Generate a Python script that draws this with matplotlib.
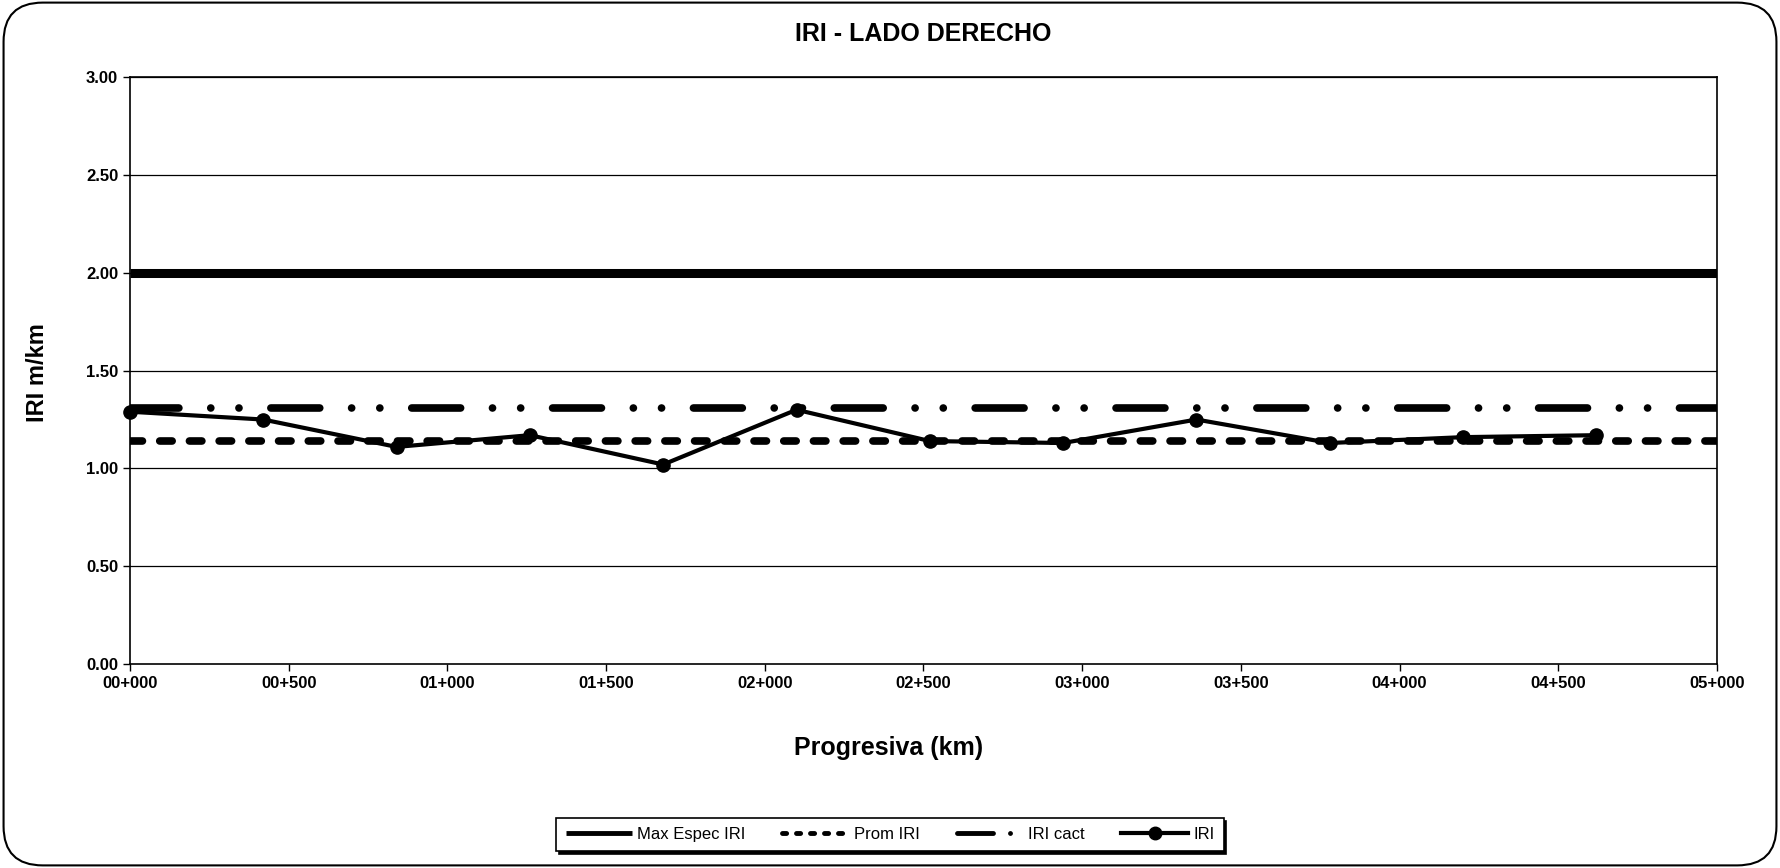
import matplotlib
matplotlib.use("Agg")
import matplotlib.pyplot as plt
from matplotlib.patches import FancyBboxPatch
from matplotlib.lines import Line2D

# progresiva (m) e IRI medido
progresiva = [0, 420, 840, 1260, 1680, 2100, 2520, 2940, 3360, 3780, 4200, 4620]
iri = [1.29, 1.25, 1.11, 1.17, 1.02, 1.30, 1.14, 1.13, 1.25, 1.13, 1.16, 1.17]

# lineas de referencia
x_ref = [0, 5000]
max_espec = [2.00, 2.00]
prom_iri = [1.14, 1.14]
iri_cact = [1.31, 1.31]

x_ticks = [0, 500, 1000, 1500, 2000, 2500, 3000, 3500, 4000, 4500, 5000]
x_labels = ["00+000", "00+500", "01+000", "01+500", "02+000", "02+500",
            "03+000", "03+500", "04+000", "04+500", "05+000"]
y_ticks = [0.0, 0.5, 1.0, 1.5, 2.0, 2.5, 3.0]

plt.rcParams['font.family'] = ['Liberation Sans', 'DejaVu Sans']

fig = plt.figure(figsize=(17.8, 8.68), dpi=100)
ax = fig.add_axes([0.073, 0.235, 0.8916, 0.676])

# marco redondeado de la figura
frame = FancyBboxPatch((0.002, 0.003), 0.996, 0.994, boxstyle="round,pad=0,rounding_size=0.022",
                       transform=fig.transFigure, fill=False, edgecolor="black", linewidth=1.5,
                       mutation_aspect=1780 / 868)
fig.patches.append(frame)

for y in y_ticks[1:]:
    ax.axhline(y, color="black", linewidth=0.9, zorder=1)

dash_prom = (0, (1.63, 2.26))
dash_cact = (0, (6.4, 4.17, 0.01, 3.68, 0.01, 4.17))

ax.plot(x_ref, max_espec, color="black", linewidth=6.5, solid_capstyle="butt", zorder=3)
ax.plot(x_ref, prom_iri, color="black", linewidth=5.5, linestyle=dash_prom,
        dash_capstyle="round", zorder=3)
ax.plot(x_ref, iri_cact, color="black", linewidth=5.5, linestyle=dash_cact,
        dash_capstyle="round", zorder=3)
ax.plot(progresiva, iri, color="black", linewidth=3, marker="o", markersize=9.5, zorder=4,
        clip_on=False)

ax.set_xlim(0, 5000)
ax.set_ylim(0, 3.0)
ax.set_xticks(x_ticks)
ax.set_xticklabels(x_labels)
ax.set_yticks(y_ticks)
ax.set_yticklabels([f"{v:.2f}" for v in y_ticks])
ax.tick_params(direction="out", length=5, width=1, labelsize=12, colors="black")
for lbl in ax.get_xticklabels() + ax.get_yticklabels():
    lbl.set_fontweight("bold")
for s in ax.spines.values():
    s.set_linewidth(1.2)

fig.text(0.5185, 0.961, "IRI - LADO DERECHO", ha="center", va="center",
         fontsize=18, fontweight="bold")
fig.text(0.4994, 0.138, "Progresiva (km)", ha="center", va="center",
         fontsize=18, fontweight="bold")
fig.text(0.021, 0.571, "IRI m/km", ha="center", va="center", rotation=90,
         fontsize=17, fontweight="bold")

# leyenda con lineas mas delgadas
handles = [
    Line2D([], [], color="black", linewidth=3.5, solid_capstyle="butt"),
    Line2D([], [], color="black", linewidth=3.5, linestyle=(0, (0.85, 2.03)),
           dash_capstyle="round"),
    Line2D([], [], color="black", linewidth=3.5, linestyle=(0, (7.4, 3.5, 0.01, 10)),
           dash_capstyle="round"),
    Line2D([], [], color="black", linewidth=3, marker="o", markersize=9),
]
labels = ["Max Espec IRI", "Prom IRI", "IRI cact", "IRI"]
leg = fig.legend(handles, labels, loc="center", bbox_to_anchor=(0.5, 0.0386), ncol=4,
                 frameon=True, fancybox=False, shadow={"color": "black", "alpha": 1.0},
                 fontsize=12, handlelength=4.0, handletextpad=0.3, columnspacing=2.2,
                 borderpad=0.55)
leg.get_frame().set_edgecolor("black")
leg.get_frame().set_linewidth(1.2)

fig.savefig("out.png", dpi=100)
